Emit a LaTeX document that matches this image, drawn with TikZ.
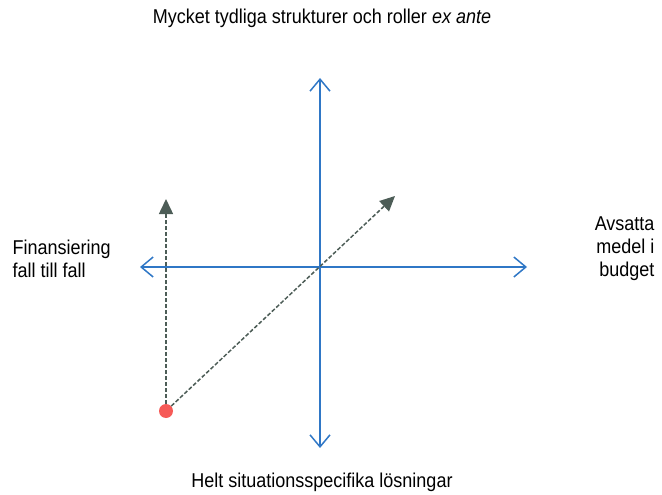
\documentclass[tikz,border=0pt]{standalone}
\usepackage{fontspec}
\setmainfont{Liberation Sans}[FakeStretch=0.9]
\usetikzlibrary{arrows.meta,positioning}
\definecolor{axisblue}{HTML}{2F77C6}
\definecolor{pathgrey}{HTML}{4D5D57}
\definecolor{dotred}{HTML}{F65A57}
\begin{document}
\begin{tikzpicture}[x=1pt, y=-1pt, axis/.style={{Straight Barb[length=12pt,width=20pt]}-{Straight Barb[length=12pt,width=20pt]}, line width=1.5pt, axisblue}, move/.style={-{Triangle[length=15pt,width=14pt]}, line width=1.5pt, dash pattern=on 4pt off 2pt, pathgrey}, start/.style={circle, fill=dotred, inner sep=0pt, minimum size=14pt}, label/.style={font=\fontsize{20}{23}\selectfont}]
\useasboundingbox (0,0) rectangle (662,495);
\coordinate (O) at (320,267);
\coordinate (N) at (320,78); \coordinate (S) at (320,448);
\coordinate (W) at (140,267); \coordinate (E) at (527,267);
\draw[axis] (N)--(S);
\draw[axis] (W)--(E);
\node[start] (dot) at (166,411) {};
\coordinate (up) at (166,199); \coordinate (diag) at (395,196);
\draw[move] (dot)--(up);
\draw[move] (dot)--(diag);
\node[label] (top) at (322,18) {Mycket tydliga strukturer och roller \textit{ex ante}};
\node[label] (bottom) at (322,482) {Helt situationsspecifika lösningar};
\node[label, align=left, anchor=west] (left) at (9,259) {Finansiering\\fall till fall};
\node[label, align=right, anchor=east] (right) at (658,249) {Avsatta\\medel i\\budget};
\end{tikzpicture}
\end{document}
